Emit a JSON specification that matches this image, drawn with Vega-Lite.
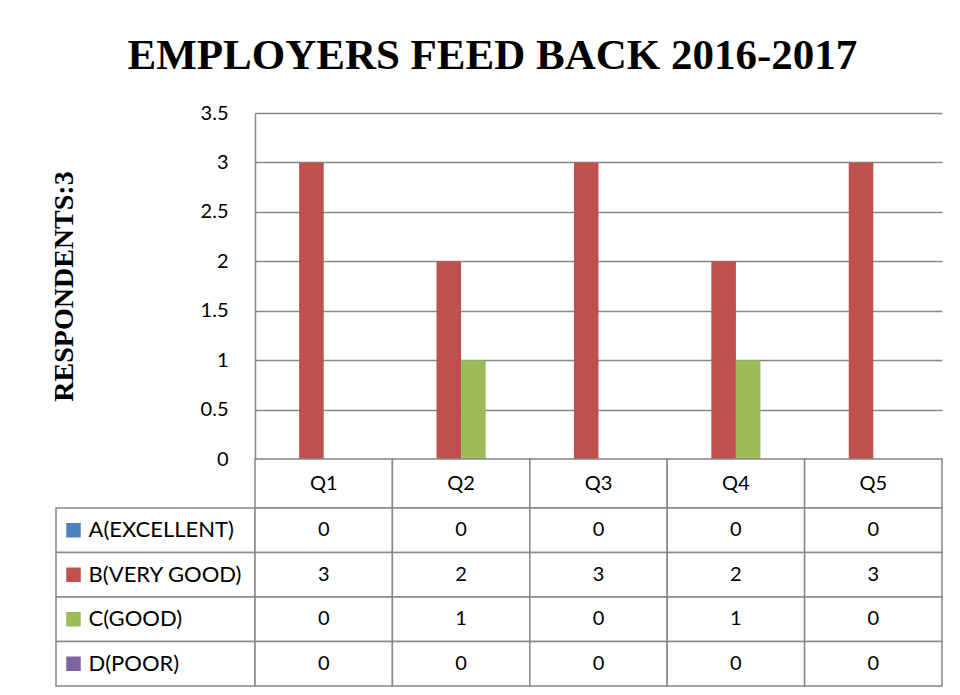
{
  "$schema": "https://vega.github.io/schema/vega-lite/v6.json",
  "background": "white",
  "padding": {"left": 50, "top": 35, "right": 10, "bottom": 5},
  "title": {
    "text": "EMPLOYERS FEED BACK 2016-2017",
    "font": "Liberation Serif",
    "fontSize": 43,
    "fontWeight": "bold",
    "color": "black",
    "anchor": "middle",
    "offset": 25,
    "dx": -4
  },
  "config": {
    "view": {"stroke": null},
    "font": "Lato"
  },
  "datasets": {
    "responses": [
      {"question": "Q1", "rating": "A(EXCELLENT)", "count": 0},
      {"question": "Q1", "rating": "B(VERY GOOD)", "count": 3},
      {"question": "Q1", "rating": "C(GOOD)", "count": 0},
      {"question": "Q1", "rating": "D(POOR)", "count": 0},
      {"question": "Q2", "rating": "A(EXCELLENT)", "count": 0},
      {"question": "Q2", "rating": "B(VERY GOOD)", "count": 2},
      {"question": "Q2", "rating": "C(GOOD)", "count": 1},
      {"question": "Q2", "rating": "D(POOR)", "count": 0},
      {"question": "Q3", "rating": "A(EXCELLENT)", "count": 0},
      {"question": "Q3", "rating": "B(VERY GOOD)", "count": 3},
      {"question": "Q3", "rating": "C(GOOD)", "count": 0},
      {"question": "Q3", "rating": "D(POOR)", "count": 0},
      {"question": "Q4", "rating": "A(EXCELLENT)", "count": 0},
      {"question": "Q4", "rating": "B(VERY GOOD)", "count": 2},
      {"question": "Q4", "rating": "C(GOOD)", "count": 1},
      {"question": "Q4", "rating": "D(POOR)", "count": 0},
      {"question": "Q5", "rating": "A(EXCELLENT)", "count": 0},
      {"question": "Q5", "rating": "B(VERY GOOD)", "count": 3},
      {"question": "Q5", "rating": "C(GOOD)", "count": 0},
      {"question": "Q5", "rating": "D(POOR)", "count": 0}
    ],
    "questions": [
      {"question": "Q1"}, {"question": "Q2"}, {"question": "Q3"}, {"question": "Q4"}, {"question": "Q5"}
    ],
    "ratings": [
      {"rating": "A(EXCELLENT)"}, {"rating": "B(VERY GOOD)"}, {"rating": "C(GOOD)"}, {"rating": "D(POOR)"}
    ]
  },
  "columns": 2,
  "spacing": 0,
  "bounds": "flush",
  "concat": [
    {
      "width": 199,
      "height": 346,
      "data": {"values": []},
      "mark": "rect"
    },
    {
      "width": 687,
      "height": 346,
      "data": {"name": "responses"},
      "mark": {"type": "bar"},
      "encoding": {
        "x": {
          "field": "question",
          "type": "nominal",
          "scale": {"paddingInner": 0.285, "paddingOuter": 0.1425},
          "axis": null
        },
        "xOffset": {
          "field": "rating",
          "type": "nominal",
          "sort": ["A(EXCELLENT)", "B(VERY GOOD)", "C(GOOD)", "D(POOR)"]
        },
        "y": {
          "field": "count",
          "type": "quantitative",
          "scale": {"domain": [0, 3.5], "nice": false},
          "axis": {
            "values": [0, 0.5, 1, 1.5, 2, 2.5, 3, 3.5],
            "labelExpr": "'' + datum.value",
            "grid": true,
            "gridColor": "#888888",
            "gridWidth": 1.5,
            "domain": true,
            "domainColor": "#888888",
            "domainWidth": 1.5,
            "ticks": false,
            "labelFont": "Lato",
            "labelFontSize": 20,
            "labelColor": "black",
            "labelPadding": 27,
            "title": "RESPONDENTS:3",
            "titleFont": "Liberation Serif",
            "titleFontSize": 28,
            "titleFontWeight": "bold",
            "titleColor": "black",
            "titlePadding": 122
          }
        },
        "color": {
          "field": "rating",
          "type": "nominal",
          "scale": {
            "domain": ["A(EXCELLENT)", "B(VERY GOOD)", "C(GOOD)", "D(POOR)"],
            "range": ["#4F81BD", "#C0504D", "#9BBB59", "#8064A2"]
          },
          "legend": null
        }
      }
    },
    {
      "width": 199,
      "height": 49,
      "data": {"values": []},
      "mark": "rect"
    },
    {
      "width": 687,
      "height": 49,
      "data": {"name": "questions"},
      "encoding": {
        "x": {
          "field": "question",
          "type": "nominal",
          "scale": {"paddingInner": 0, "paddingOuter": 0},
          "axis": null
        }
      },
      "layer": [
        {"mark": {"type": "rect", "fill": "white", "stroke": "#888888", "strokeWidth": 1.5}},
        {
          "mark": {"type": "text", "font": "Lato", "fontSize": 20, "color": "black"},
          "encoding": {"text": {"field": "question"}}
        }
      ]
    },
    {
      "width": 199,
      "height": 178,
      "data": {"name": "ratings"},
      "encoding": {
        "y": {
          "field": "rating",
          "type": "nominal",
          "sort": ["A(EXCELLENT)", "B(VERY GOOD)", "C(GOOD)", "D(POOR)"],
          "scale": {"paddingInner": 0, "paddingOuter": 0},
          "axis": null
        }
      },
      "layer": [
        {"mark": {"type": "rect", "fill": "white", "stroke": "#888888", "strokeWidth": 1.5}},
        {
          "mark": {"type": "point", "shape": "square", "filled": true, "size": 210, "opacity": 1, "xOffset": -82},
          "encoding": {
            "color": {
              "field": "rating",
              "type": "nominal",
              "scale": {
                "domain": ["A(EXCELLENT)", "B(VERY GOOD)", "C(GOOD)", "D(POOR)"],
                "range": ["#4F81BD", "#C0504D", "#9BBB59", "#8064A2"]
              },
              "legend": null
            }
          }
        },
        {
          "mark": {"type": "text", "font": "Lato", "fontSize": 22, "color": "black", "align": "left", "dx": -67},
          "encoding": {"text": {"field": "rating"}}
        }
      ]
    },
    {
      "width": 687,
      "height": 178,
      "data": {"name": "responses"},
      "encoding": {
        "x": {
          "field": "question",
          "type": "nominal",
          "scale": {"paddingInner": 0, "paddingOuter": 0},
          "axis": null
        },
        "y": {
          "field": "rating",
          "type": "nominal",
          "sort": ["A(EXCELLENT)", "B(VERY GOOD)", "C(GOOD)", "D(POOR)"],
          "scale": {"paddingInner": 0, "paddingOuter": 0},
          "axis": null
        }
      },
      "layer": [
        {"mark": {"type": "rect", "fill": "white", "stroke": "#888888", "strokeWidth": 1.5}},
        {
          "mark": {"type": "text", "font": "Lato", "fontSize": 20, "color": "black"},
          "encoding": {"text": {"field": "count", "type": "quantitative"}}
        }
      ]
    }
  ]
}
